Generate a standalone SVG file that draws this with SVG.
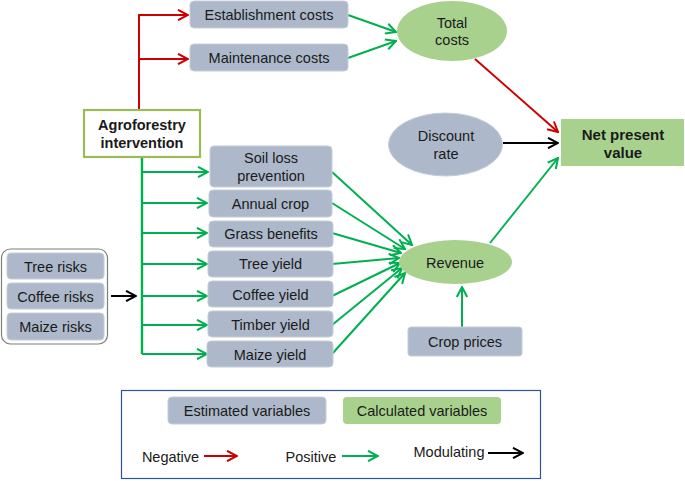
<svg xmlns="http://www.w3.org/2000/svg" width="685" height="481" viewBox="0 0 685 481">
<defs>
<style>
text{font-family:"Liberation Sans",Arial,sans-serif;font-size:14.5px;fill:#1a1a1a;text-anchor:middle}
.b{font-weight:bold}
.est{fill:#adb9ca;stroke:#c4ccd8;stroke-width:1}
.calc{fill:#a9d18e}
.r{stroke:#cc0000;stroke-width:2;fill:none;marker-end:url(#ar)}
.g{stroke:#00b050;stroke-width:2;fill:none;marker-end:url(#ag)}
.g0{stroke:#00b050;stroke-width:2.4;fill:none}
.k{stroke:#000;stroke-width:2;fill:none;marker-end:url(#ak)}
</style>
<marker id="ar" viewBox="0 0 12 12" refX="11" refY="6" markerWidth="12" markerHeight="12" markerUnits="userSpaceOnUse" orient="auto"><path d="M1,0.8 L11,6 L1,11.2" fill="none" stroke="#cc0000" stroke-width="2"/></marker>
<marker id="ag" viewBox="0 0 12 12" refX="11" refY="6" markerWidth="12" markerHeight="12" markerUnits="userSpaceOnUse" orient="auto"><path d="M1,0.8 L11,6 L1,11.2" fill="none" stroke="#00b050" stroke-width="2"/></marker>
<marker id="ak" viewBox="0 0 12 12" refX="11" refY="6" markerWidth="12" markerHeight="12" markerUnits="userSpaceOnUse" orient="auto"><path d="M1,0.8 L11,6 L1,11.2" fill="none" stroke="#000" stroke-width="2"/></marker>
</defs>
<rect width="685" height="481" fill="#fff"/>

<g id="connectors">
<path class="r" d="M139,110 V15 H188"/>
<path class="r" d="M139,59 H188"/>
<path class="g0" d="M142,157 V354"/>
<path class="g" d="M142,172 H208"/>
<path class="g" d="M142,203 H207"/>
<path class="g" d="M142,233 H207"/>
<path class="g" d="M142,264 H207"/>
<path class="g" d="M142,296 H207"/>
<path class="g" d="M142,325 H207"/>
<path class="g" d="M142,354 H207"/>
<path class="k" d="M111,296 H136"/>
<path class="g" d="M348,15 L396,32"/>
<path class="g" d="M348,58 L396,41"/>
<path class="r" d="M475,59 L558,132"/>
<path class="k" d="M503,143 H558"/>
<path class="g" d="M490,243 L558,158"/>
<path class="g" d="M462,327 V287"/>
<path class="g" d="M332,172 L412,245"/>
<path class="g" d="M332,203 L405,249"/>
<path class="g" d="M332,233 L401,253"/>
<path class="g" d="M332,264 L399,258"/>
<path class="g" d="M332,296 L400,263"/>
<path class="g" d="M332,325 L402,268"/>
<path class="g" d="M332,354 L405,273"/>
</g>

<g id="establishment-costs"><rect class="est" x="190" y="1" width="158" height="27" rx="4"/><text x="269" y="19.5">Establishment costs</text></g>
<g id="maintenance-costs"><rect class="est" x="190" y="44" width="158" height="27" rx="4"/><text x="269" y="62.5">Maintenance costs</text></g>
<g id="agroforestry"><rect x="84" y="110" width="116" height="47" fill="#fff" stroke="#9bbb59" stroke-width="2.2"/><text class="b" x="142" y="130">Agroforestry</text><text class="b" x="142" y="147.5">intervention</text></g>
<g id="soil-loss"><rect class="est" x="210" y="146" width="122" height="41" rx="4"/><text x="271" y="163">Soil loss</text><text x="271" y="180.5">prevention</text></g>
<g id="annual-crop"><rect class="est" x="209" y="190" width="123" height="27" rx="4"/><text x="270.5" y="208.5">Annual crop</text></g>
<g id="grass-benefits"><rect class="est" x="209" y="221" width="124" height="26" rx="4"/><text x="271" y="239">Grass benefits</text></g>
<g id="tree-yield"><rect class="est" x="208" y="251" width="125" height="26" rx="4"/><text x="270.5" y="269">Tree yield</text></g>
<g id="coffee-yield"><rect class="est" x="208" y="281" width="125" height="26" rx="4"/><text x="270.5" y="300">Coffee yield</text></g>
<g id="timber-yield"><rect class="est" x="208" y="311" width="125" height="26" rx="4"/><text x="270.5" y="329.5">Timber yield</text></g>
<g id="maize-yield"><rect class="est" x="207" y="341" width="126" height="26" rx="4"/><text x="270" y="359.5">Maize yield</text></g>

<g id="risks">
<rect x="1.5" y="249" width="106" height="95" rx="9" fill="#fff" stroke="#7f7f7f" stroke-width="1.2"/>
<rect class="est" x="7" y="253" width="97" height="26" rx="4"/><text x="55.5" y="271.5">Tree risks</text>
<rect class="est" x="7" y="283" width="97" height="26" rx="4"/><text x="55.5" y="301.5">Coffee risks</text>
<rect class="est" x="7" y="313" width="97" height="27" rx="4"/><text x="55.5" y="331.5">Maize risks</text>
</g>

<g id="total-costs"><ellipse class="calc" cx="452" cy="31" rx="55" ry="30"/><text x="452" y="28">Total</text><text x="452" y="45">costs</text></g>
<g id="discount-rate"><ellipse class="est" cx="445.5" cy="144.5" rx="57" ry="31.5"/><text x="446" y="141">Discount</text><text x="446" y="158.5">rate</text></g>
<g id="npv"><rect class="calc" x="561" y="119" width="123" height="47"/><text class="b" x="623" y="140" style="font-size:15px">Net present</text><text class="b" x="623" y="158" style="font-size:15px">value</text></g>
<g id="revenue"><ellipse class="calc" cx="455.5" cy="262" rx="56.5" ry="22"/><text x="455" y="267.5">Revenue</text></g>
<g id="crop-prices"><rect class="est" x="408" y="327" width="114" height="29" rx="3"/><text x="465" y="347">Crop prices</text></g>

<g id="legend">
<rect x="121.5" y="390.5" width="419" height="88" fill="#fff" stroke="#2f5597" stroke-width="1.2"/>
<rect class="est" x="168" y="397" width="158" height="27" rx="4"/><text x="247" y="415.5">Estimated variables</text>
<rect class="calc" x="343" y="397" width="158" height="27" rx="4"/><text x="422" y="415.5">Calculated variables</text>
<text x="170.5" y="462">Negative</text>
<path class="r" d="M204,456 H237"/>
<text x="311" y="462">Positive</text>
<path class="g" d="M342,456 H378"/>
<text x="449" y="457">Modulating</text>
<path class="k" d="M488,453 H523"/>
</g>
</svg>
